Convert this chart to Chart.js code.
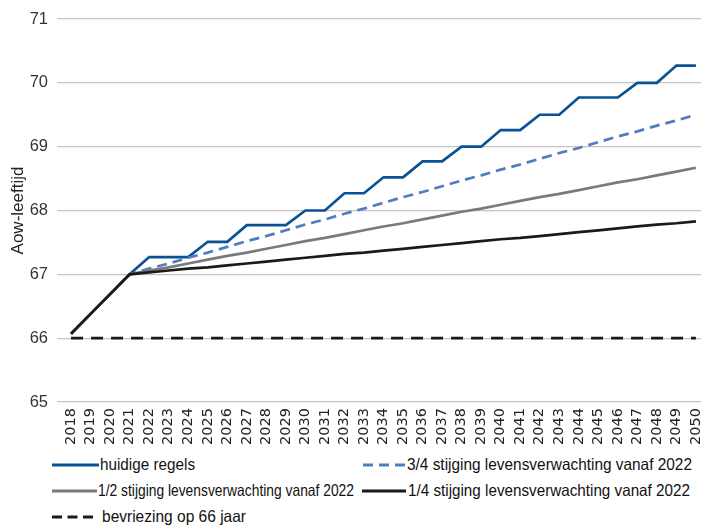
<!DOCTYPE html>
<html><head><meta charset="utf-8">
<script src="https://cdn.jsdelivr.net/npm/chart.js@4.4.1/dist/chart.umd.min.js"></script>
<style>
html,body{margin:0;padding:0;background:#fff;}
#wrap{position:relative;width:701px;height:527px;overflow:hidden;background:#fff;}
#cv{position:absolute;left:0;top:0;width:701px;height:450px;}
.sw{position:absolute;}
.lt{position:absolute;white-space:nowrap;font-family:'Liberation Sans',sans-serif;font-size:16.5px;line-height:20px;height:20px;color:#111;transform-origin:0 50%;}
</style></head><body>
<div id="wrap"><div id="cv"><canvas id="c"></canvas></div><div id="legend"></div></div>
<script>
const years = [2018,2019,2020,2021,2022,2023,2024,2025,2026,2027,2028,2029,2030,2031,2032,2033,2034,2035,2036,2037,2038,2039,2040,2041,2042,2043,2044,2045,2046,2047,2048,2049,2050];
const yTicks = [65,66,67,68,69,70,71];
const labels = ['huidige regels','3/4 stijging levensverwachting vanaf 2022','1/2 stijging levensverwachting vanaf 2022','1/4 stijging levensverwachting vanaf 2022','bevriezing op 66 jaar'];
const huidigeRegels = [66.07,66.38,66.69,67.00,67.27,67.27,67.27,67.51,67.51,67.77,67.77,67.77,68.00,68.00,68.27,68.27,68.52,68.52,68.77,68.77,69.00,69.00,69.26,69.26,69.50,69.50,69.77,69.77,69.77,70.00,70.00,70.27,70.27];
const stijging34 = [66.07,66.38,66.69,67.00,67.09,67.17,67.26,67.34,67.43,67.52,67.60,67.69,67.78,67.86,67.95,68.03,68.12,68.21,68.29,68.38,68.47,68.55,68.64,68.72,68.81,68.90,68.98,69.07,69.16,69.24,69.33,69.41,69.50];
const stijging12 = [66.07,66.38,66.69,67.00,67.06,67.11,67.17,67.23,67.29,67.34,67.40,67.46,67.52,67.57,67.63,67.69,67.75,67.80,67.86,67.92,67.98,68.03,68.09,68.15,68.21,68.26,68.32,68.38,68.44,68.49,68.55,68.61,68.67];
const stijging14 = [66.07,66.38,66.69,67.00,67.03,67.06,67.09,67.11,67.14,67.17,67.20,67.23,67.26,67.29,67.32,67.34,67.37,67.40,67.43,67.46,67.49,67.52,67.55,67.57,67.60,67.63,67.66,67.69,67.72,67.75,67.78,67.80,67.83];
const bevriezing = [66,66,66,66,66,66,66,66,66,66,66,66,66,66,66,66,66,66,66,66,66,66,66,66,66,66,66,66,66,66,66,66,66];

const seriesVals = [huidigeRegels, stijging34, stijging12, stijging14, bevriezing];
const styles = [
  {color:'#0a5296', dash:[], order:4, lg:{x1:52,x2:99,y:465,tx:100,tw:95,dash:''}},
  {color:'#4f7dbf', dash:[10,6], order:3, lg:{x1:363,x2:405,y:465,tx:407,tw:285,dash:'10,6'}},
  {color:'#7a7a7a', dash:[], order:2, lg:{x1:52,x2:97,y:491,tx:98,tw:256,dash:''}},
  {color:'#1a1a1a', dash:[], order:0, lg:{x1:362,x2:406,y:491,tx:408,tw:282,dash:''}},
  {color:'#1a1a1a', dash:[12,8], order:1, lg:{x1:52,x2:93,y:517,tx:102,tw:144,dash:'10,5.5'}}
];

const datasets = seriesVals.map((vals, i) => ({
  label: labels[i],
  data: years.map((yr, j) => ({x: yr, y: vals[j]})),
  borderColor: styles[i].color,
  backgroundColor: styles[i].color,
  borderDash: styles[i].dash,
  borderWidth: 2.7,
  pointRadius: 0,
  tension: 0,
  fill: false,
  order: styles[i].order
}));

new Chart(document.getElementById('c'), {
  type: 'line',
  data: { datasets },
  options: {
    responsive: true,
    maintainAspectRatio: false,
    animation: false,
    layout: { padding: { top: 19, left: 0, right: 0, bottom: 0 } },
    plugins: { legend: { display: false }, tooltip: { enabled: false } },
    scales: {
      x: {
        type: 'linear',
        min: 2017.28,
        max: 2050.26,
        grid: { display: false, drawTicks: false },
        border: { display: false },
        afterBuildTicks: (axis) => { axis.ticks = years.map(v => ({ value: v })); },
        afterFit: (s) => { s.height = 48; s.paddingLeft = 0; s.paddingRight = 0; },
        ticks: {
          autoSkip: false,
          minRotation: 90,
          maxRotation: 90,
          padding: 6,
          color: '#222',
          font: { family: 'DejaVu Sans', size: 14.5 },
          callback: (v) => String(v)
        }
      },
      y: {
        min: yTicks[0],
        max: yTicks[yTicks.length - 1],
        afterBuildTicks: (axis) => { axis.ticks = yTicks.map(v => ({ value: v })); },
        afterFit: (s) => { s.width = 57; },
        grid: { color: '#c4c4c4', lineWidth: 1.3, drawTicks: false },
        border: { display: false },
        ticks: {
          padding: 9,
          color: '#333',
          font: { family: 'Liberation Sans', size: 16.5 }
        },
        title: {
          display: true,
          text: 'Aow-leeftijd',
          color: '#222',
          font: { family: 'Liberation Sans', size: 17 },
          padding: { top: 8, bottom: 0 }
        }
      }
    }
  }
});

// HTML legend built from dataset labels/styles
const lgEl = document.getElementById('legend');
const mctx = document.createElement('canvas').getContext('2d');
mctx.font = "16.5px 'Liberation Sans'";
datasets.forEach((ds, i) => {
  const L = styles[i].lg;
  const w = L.x2 - L.x1;
  const svg = document.createElementNS('http://www.w3.org/2000/svg', 'svg');
  svg.setAttribute('class', 'sw');
  svg.setAttribute('width', w);
  svg.setAttribute('height', 8);
  svg.style.left = L.x1 + 'px';
  svg.style.top = (L.y - 4) + 'px';
  const ln = document.createElementNS('http://www.w3.org/2000/svg', 'line');
  ln.setAttribute('x1', 0); ln.setAttribute('x2', w);
  ln.setAttribute('y1', 4); ln.setAttribute('y2', 4);
  ln.setAttribute('stroke', ds.borderColor);
  ln.setAttribute('stroke-width', 3);
  if (L.dash) ln.setAttribute('stroke-dasharray', L.dash);
  svg.appendChild(ln);
  lgEl.appendChild(svg);
  const t = document.createElement('div');
  t.className = 'lt';
  t.textContent = ds.label;
  t.style.left = L.tx + 'px';
  t.style.top = (L.y - 11) + 'px';
  const mw = mctx.measureText(ds.label).width;
  t.style.transform = 'scaleX(' + (L.tw / mw).toFixed(3) + ')';
  lgEl.appendChild(t);
});
</script>
</body></html>
